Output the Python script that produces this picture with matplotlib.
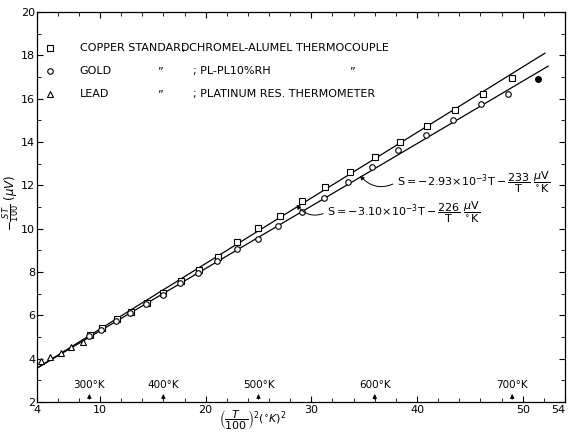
import matplotlib
matplotlib.use("Agg")
import matplotlib.pyplot as plt
from matplotlib.ticker import MultipleLocator, FixedLocator

# copper standard (squares)
cu_x = [9.06, 10.16, 11.58, 12.93, 14.42, 15.96, 17.63, 19.36,
        21.18, 22.98, 24.96, 27.02, 29.16, 31.27, 33.63,
        35.99, 38.35, 40.94, 43.56, 46.23, 49.01]
cu_y = [5.10, 5.40, 5.83, 6.17, 6.57, 7.03, 7.57, 8.07,
        8.71, 9.40, 10.02, 10.60, 11.29, 11.94, 12.63,
        13.29, 14.01, 14.74, 15.47, 16.21, 16.94]

# gold (circles)
au_x = [9.00, 10.10, 11.50, 12.88, 14.38, 15.92, 17.58, 19.30,
        21.03, 22.92, 24.91, 26.85, 29.07, 31.20, 33.47,
        35.78, 38.20, 40.81, 43.39, 46.08, 48.59]
au_y = [5.03, 5.33, 5.76, 6.10, 6.50, 6.95, 7.49, 7.97,
        8.52, 9.06, 9.51, 10.12, 10.78, 11.43, 12.17,
        12.83, 13.63, 14.32, 15.01, 15.74, 16.21]
au_fill_x = [51.43]
au_fill_y = [16.89]

# lead (triangles)
pb_x = [4.43, 5.28, 6.29, 7.23, 8.37]
pb_y = [3.89, 4.09, 4.25, 4.55, 4.75]

# fitted lines (end points)
fit_cu_x = [4.0, 52.1]
fit_cu_y = [3.55, 18.1]
fit_au_x = [4.0, 52.4]
fit_au_y = [3.55, 17.5]

temps = [300, 400, 500, 600, 700]
temp_pos = [(t / 100) ** 2 for t in temps]

fig = plt.figure(figsize=(5.68, 4.36), dpi=100)
ax = fig.add_axes([0.0643, 0.078, 0.9305, 0.8945])

ax.plot(fit_cu_x, fit_cu_y, color="black", lw=0.9)
ax.plot(fit_au_x, fit_au_y, color="black", lw=0.9)
ax.plot(cu_x, cu_y, ls="none", marker="s", ms=4, mfc="white", mec="black", mew=0.8)
ax.plot(au_x, au_y, ls="none", marker="o", ms=4, mfc="white", mec="black", mew=0.8)
ax.plot(au_fill_x, au_fill_y, ls="none", marker="o", ms=4, mfc="black", mec="black")
ax.plot(pb_x, pb_y, ls="none", marker="^", ms=4, mfc="white", mec="black", mew=0.8)

ax.set_xlim(4, 54)
ax.set_ylim(2, 20)
ax.xaxis.set_major_locator(FixedLocator([4, 10, 20, 30, 40, 50, 54]))
ax.xaxis.set_minor_locator(MultipleLocator(2))
ax.yaxis.set_major_locator(MultipleLocator(2))
ax.yaxis.set_minor_locator(MultipleLocator(1))
ax.tick_params(which="both", direction="in", top=True, right=True,
               labelsize=8, pad=2)
ax.tick_params(axis="y", pad=1)
ax.tick_params(which="major", length=4)
ax.tick_params(which="minor", length=3)
ax.get_xticklabels()[-1].set_ha("right")
for s in ax.spines.values():
    s.set_linewidth(0.9)

# temperature markers along the x axis
for t, p in zip(temps, temp_pos):
    ax.annotate("", xy=(p, 2.5), xytext=(p, 2.0),
                arrowprops=dict(arrowstyle="-|>", color="black", lw=0.7,
                                mutation_scale=6))
    ax.text(p, 2.55, f"{t}°K", ha="center", va="bottom", fontsize=7.5)

# key
fs = 8
ax.plot([5.3], [18.34], marker="s", ms=4, mfc="white", mec="black", mew=0.8)
ax.plot([5.3], [17.27], marker="o", ms=4, mfc="white", mec="black", mew=0.8)
ax.plot([5.3], [16.21], marker="^", ms=4, mfc="white", mec="black", mew=0.8)
ax.text(8.1, 18.34, "COPPER STANDARD", va="center", fontsize=fs)
ax.text(17.8, 18.34, "; CHROMEL-ALUMEL THERMOCOUPLE", va="center", fontsize=fs)
ax.text(8.1, 17.27, "GOLD", va="center", fontsize=fs)
ax.text(15.4, 17.27, "\u201d", va="center", fontsize=fs)
ax.text(18.8, 17.27, "; PL-PL10%RH", va="center", fontsize=fs)
ax.text(33.6, 17.27, "\u201d", va="center", fontsize=fs)
ax.text(8.1, 16.21, "LEAD", va="center", fontsize=fs)
ax.text(15.4, 16.21, "\u201d", va="center", fontsize=fs)
ax.text(18.8, 16.21, "; PLATINUM RES. THERMOMETER", va="center", fontsize=fs)

# fit equations
arrow = dict(arrowstyle="-|>", color="black", lw=0.7, mutation_scale=6,
             relpos=(0, 0.5), shrinkA=1, shrinkB=0,
             connectionstyle="arc3,rad=-0.4")
ax.annotate(r"$\mathrm{S}=-2.93{\times}10^{-3}\mathrm{T}-\dfrac{233}{\mathrm{T}}\ \dfrac{\mu \mathrm{V}}{^{\circ}\mathrm{K}}$",
            xy=(34.6, 12.45), xytext=(38.1, 12.15), ha="left", va="center",
            fontsize=8, arrowprops=arrow)
ax.annotate(r"$\mathrm{S}=-3.10{\times}10^{-3}\mathrm{T}-\dfrac{226}{\mathrm{T}}\ \dfrac{\mu \mathrm{V}}{^{\circ}\mathrm{K}}$",
            xy=(28.6, 11.1), xytext=(31.5, 10.77), ha="left", va="center",
            fontsize=8, arrowprops=arrow)

fig.text(0.019, 0.535, r"$-\frac{ST}{100}\ (\mu V)$", rotation=90,
         ha="center", va="center", fontsize=8.5)
fig.text(0.445, 0.035, r"$\left(\dfrac{T}{100}\right)^{2}(^{\circ}K)^{2}$",
         ha="center", va="center", fontsize=8)

fig.savefig("out.png", dpi=100)
